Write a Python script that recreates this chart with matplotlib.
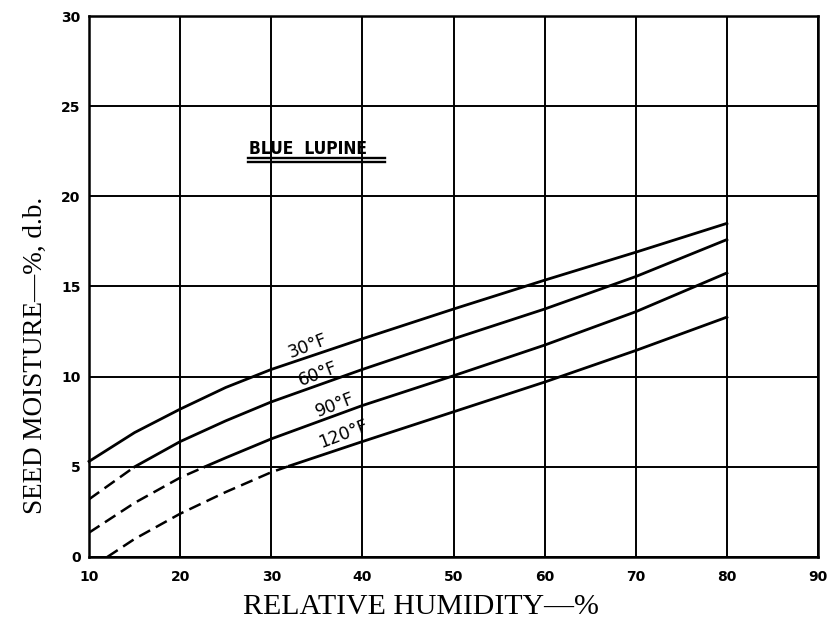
import numpy as np
import matplotlib.pyplot as plt
from matplotlib.lines import Line2D

# curve readings (relative humidity %, seed moisture % d.b.)
rh_30 = [10, 15, 20, 25, 30, 40, 50, 60, 70, 80]
mc_30 = [5.3, 6.9, 8.2, 9.4, 10.4, 12.1, 13.75, 15.35, 16.9, 18.5]

rh_60 = [10, 15, 20, 25, 30, 40, 50, 60, 70, 80]
mc_60 = [3.2, 5.0, 6.4, 7.55, 8.6, 10.4, 12.1, 13.75, 15.55, 17.6]

rh_90 = [10, 15, 20, 22.7, 25, 30, 40, 50, 60, 70, 80]
mc_90 = [1.35, 3.0, 4.4, 5.0, 5.5, 6.55, 8.4, 10.05, 11.75, 13.6, 15.75]

rh_120 = [12.0, 15, 20, 25, 30, 32, 40, 50, 60, 70, 80]
mc_120 = [0.0, 1.0, 2.4, 3.6, 4.7, 5.05, 6.4, 8.05, 9.7, 11.45, 13.3]

# dashed (extrapolated) below this RH
dash_until = {'30': 10, '60': 15, '90': 22.7, '120': 32}

labels = ['30°F', '60°F', '90°F', '120°F']
label_pos = [(34.0, 11.7), (35.1, 10.15), (37.0, 8.45), (37.9, 6.8)]

xticks = [10, 20, 30, 40, 50, 60, 70, 80, 90]
yticks = [0, 5, 10, 15, 20, 25, 30]

fig = plt.figure(figsize=(8.29, 6.3), dpi=100)
ax = fig.add_axes([0.1074, 0.1159, 0.8793, 0.8587])

ax.set_xlim(10, 90)
ax.set_ylim(0, 30)
ax.set_xticks(xticks)
ax.set_yticks(yticks)
ax.grid(True, color='black', linewidth=1.4)
ax.set_axisbelow(True)
for s in ax.spines.values():
    s.set_linewidth(1.8)
ax.tick_params(axis='x', length=0, pad=9.5)
ax.tick_params(axis='y', length=0, pad=6)
for t in ax.get_xticklabels() + ax.get_yticklabels():
    t.set_fontweight('bold')
    t.set_fontsize(10)

curves = [(rh_30, mc_30, '30'), (rh_60, mc_60, '60'),
          (rh_90, mc_90, '90'), (rh_120, mc_120, '120')]
for xs, ys, key in curves:
    xs = np.array(xs)
    ys = np.array(ys)
    lim = dash_until[key]
    solid = xs >= lim
    dashed = xs <= lim
    ax.plot(xs[solid], ys[solid], color='black', linewidth=2.0,
            solid_joinstyle='round', clip_on=False)
    if dashed.sum() > 1:
        ax.plot(xs[dashed], ys[dashed], color='black', linewidth=1.8,
                dashes=(5, 2.6))

for lab, (x, y) in zip(labels, label_pos):
    ax.text(x, y, lab, fontsize=12.5, rotation=21, ha='center', va='center',
            family='DejaVu Sans')

ax.text(27.6, 22.65, 'BLUE  LUPINE', fontsize=12.5, fontweight='bold',
        ha='left', va='center', family='DejaVu Sans', stretch='condensed')
for yy in (0.7375, 0.7295):
    ax.add_line(Line2D([0.218, 0.406], [yy, yy], transform=ax.transAxes,
                       color='black', linewidth=1.7))

ax.set_xlabel('RELATIVE HUMIDITY—%', family='Liberation Serif', fontsize=21.5)
ax.xaxis.set_label_coords(0.455, -0.068)
ax.set_ylabel('SEED MOISTURE—%, d.b.', family='Liberation Serif', fontsize=19.5)
ax.yaxis.set_label_coords(-0.056, 0.373)

fig.savefig('out.png', dpi=100)
